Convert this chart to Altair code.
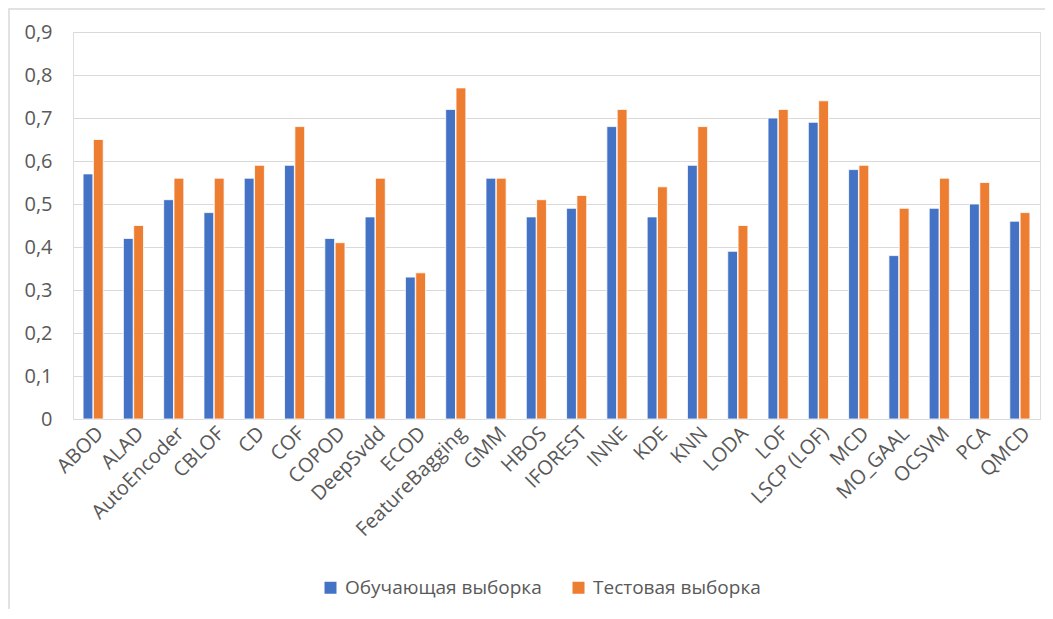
import altair as alt
import pandas as pd

categories = ["ABOD", "ALAD", "AutoEncoder", "CBLOF", "CD", "COF", "COPOD", "DeepSvdd",
              "ECOD", "FeatureBagging", "GMM", "HBOS", "IFOREST", "INNE", "KDE", "KNN",
              "LODA", "LOF", "LSCP (LOF)", "MCD", "MO_GAAL", "OCSVM", "PCA", "QMCD"]
train = [0.57, 0.42, 0.51, 0.48, 0.56, 0.59, 0.42, 0.47, 0.33, 0.72, 0.56, 0.47,
         0.49, 0.68, 0.47, 0.59, 0.39, 0.70, 0.69, 0.58, 0.38, 0.49, 0.50, 0.46]
test = [0.65, 0.45, 0.56, 0.56, 0.59, 0.68, 0.41, 0.56, 0.34, 0.77, 0.56, 0.51,
        0.52, 0.72, 0.54, 0.68, 0.45, 0.72, 0.74, 0.59, 0.49, 0.56, 0.55, 0.48]
series = ["Обучающая выборка", "Тестовая выборка"]
colors = ["#4472C4", "#ED7D31"]
y_ticks = [0, 0.1, 0.2, 0.3, 0.4, 0.5, 0.6, 0.7, 0.8, 0.9]

rows = []
for c, a, b in zip(categories, train, test):
    rows.append({"cat": c, "series": series[0], "value": a})
    rows.append({"cat": c, "series": series[1], "value": b})
df = pd.DataFrame(rows)

FONT = "Open Sans"
TXT = "#595959"
W, H = 967, 387
PL, PT = 65, 24

bars = alt.Chart(df).mark_bar(stroke="white", strokeWidth=0.8).encode(
    x=alt.X("cat:N", sort=categories, title=None,
            scale=alt.Scale(paddingInner=0.5, paddingOuter=0.25),
            axis=alt.Axis(labelAngle=-45, labelAlign="right", labelBaseline="top",
                          labelFontSize=20, labelColor=TXT, labelFont=FONT,
                          ticks=False, domain=True, domainColor="#D9D9D9",
                          labelPadding=4, labelOverlap=False, labelLimit=0)),
    xOffset=alt.XOffset("series:N", sort=series, scale=alt.Scale(paddingInner=0.05)),
    y=alt.Y("value:Q", title=None,
            scale=alt.Scale(domain=[0, 0.9], nice=False),
            axis=alt.Axis(values=y_ticks, labelExpr="datum.value == 0 ? '0' : replace(format(datum.value, '.1f'), '.', ',')",
                          labelFontSize=20, labelColor=TXT, labelFont=FONT,
                          ticks=False, domain=False, gridColor="#D9D9D9",
                          labelPadding=21)),
    color=alt.Color("series:N", sort=series,
                    scale=alt.Scale(domain=series, range=colors),
                    legend=alt.Legend(title=None, orient="none", direction="horizontal",
                                      legendX=248, legendY=546, padding=0,
                                      symbolType="square", symbolSize=144,
                                      symbolStrokeWidth=0, labelOffset=5,
                                      labelFontSize=19, labelColor=TXT, labelFont=FONT,
                                      labelLimit=0, columnPadding=27)),
)

border = alt.Chart(pd.DataFrame({"a": [0]})).mark_rect(
    fill=None, stroke="#D9D9D9", strokeWidth=1.5
).encode(x=alt.value(-PL + 1), x2=alt.value(W + 200), y=alt.value(-PT + 1), y2=alt.value(H + 400))

chart = alt.layer(border, bars).properties(
    width=W, height=H,
    autosize=alt.AutoSizeParams(type="none"),
    padding={"left": PL, "top": PT, "right": 5, "bottom": 190}
).configure_view(stroke=None).configure(background="white")

chart.save("out.html", embed_options={"renderer": "svg", "actions": False})
